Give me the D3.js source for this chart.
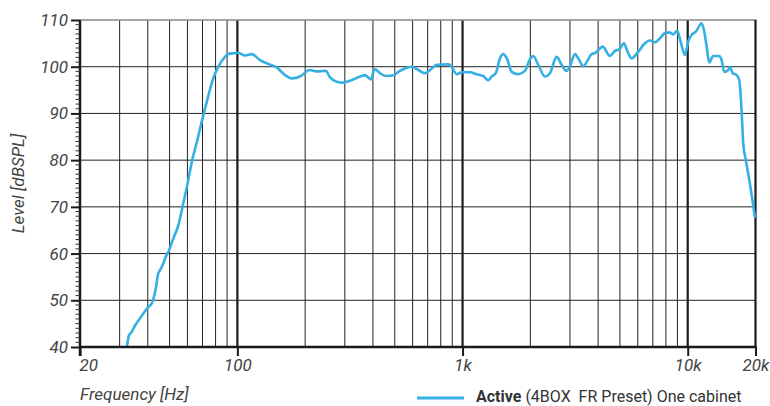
<!DOCTYPE html>
<html><head><meta charset="utf-8">
<script src="https://cdn.jsdelivr.net/npm/d3@7"></script>
<style>html,body{margin:0;padding:0;background:#fff}svg{display:block}</style>
</head><body>
<script>
// ---- data ----
const freqs = [32.4,33.0,33.9,35.1,36.9,39.6,41.9,43.4,44.5,45.3,46.9,47.7,49.7,51.9,54.7,57.5,60.1,63.0,66.4,69.4,73.5,78.1,82.3,88.1,91.1,97.6,101,108,116,126,137,149,163,174,190,196,209,225,247,258,276,295,316,339,369,391,408,430,460,489,527,594,636,681,717,767,864,894,942,991,1078,1155,1236,1301,1346,1407,1466,1517,1579,1652,1767,1893,1991,2061,2169,2323,2444,2617,2755,2899,2999,3156,3265,3436,3616,3744,3874,4076,4190,4515,4751,4966,5209,5385,5636,6028,6456,6795,7147,7527,8003,8339,8623,8980,9297,9720,10047,10400,10870,11527,11800,12136,12460,12975,13800,14140,14520,15135,15390,15820,16485,16940,17345,17640,18120,18880,19870];
const levels = [40.4,42.5,43.2,44.6,46.1,48.2,49.6,52.5,55.7,56.4,57.9,58.9,60.7,63.2,66.1,70.7,75.0,80.0,84.3,88.2,92.9,97.5,100.0,102.1,102.7,102.9,103.0,102.4,102.7,101.4,100.6,99.9,98.2,97.5,97.9,98.4,99.3,99.0,99.1,97.7,96.8,96.6,97.0,97.6,98.2,97.3,99.5,98.6,98.0,98.1,99.1,100.0,99.3,98.6,99.3,100.4,100.5,100.0,98.4,98.8,98.8,98.4,98.0,97.1,97.9,98.7,101.8,102.7,101.6,98.9,98.4,99.1,101.6,102.3,100.4,97.9,98.6,102.1,100.4,99.1,100.1,102.7,101.8,100.1,101.6,102.7,102.9,103.9,104.3,102.3,103.4,103.7,105.0,103.4,101.8,103.2,105.0,105.6,105.2,106.1,107.3,107.3,106.9,107.7,105.4,102.5,105.4,106.8,107.5,109.3,107.9,104.3,100.9,102.3,102.3,101.4,98.9,99.3,100.0,98.7,98.2,97.1,90.7,83.6,80.0,75.0,67.9];
const xTickValues = [20,100,1000,10000,20000];
const xTickLabels = ["20","100","1k","10k","20k"];
const yTickValues = [40,50,60,70,80,90,100,110];
const xGrid = [30,40,50,60,70,80,90,200,300,400,500,600,700,800,900,2000,3000,4000,5000,6000,7000,8000,9000];
const xGridBold = [100,1000,10000];
const yTitle = "Level [dBSPL]";
const xTitle = "Frequency [Hz]";
const legendBold = "Active";
const legendRest = "(4BOX\u00a0\u00a0FR Preset) One cabinet";

// ---- layout ----
const W = 770, H = 406;
const L = 80, R = 755.5, T = 20, B = 347;
const x = d3.scaleLog().domain([20,20000]).range([L,R]);
const y = d3.scaleLinear().domain([40,110]).range([B,T]);
const blue = "#36afe4";
const font = "Roboto, 'Liberation Sans', sans-serif";

const svg = d3.select("body").append("svg").attr("width",W).attr("height",H);

// horizontal grid
svg.append("g").selectAll("line").data(yTickValues.filter(v=>v>40&&v<110)).join("line")
  .attr("x1",L).attr("x2",R).attr("y1",d=>y(d)).attr("y2",d=>y(d))
  .attr("stroke","#222").attr("stroke-width",1);
// vertical minor grid
svg.append("g").selectAll("line").data(xGrid).join("line")
  .attr("x1",d=>x(d)).attr("x2",d=>x(d)).attr("y1",T).attr("y2",B)
  .attr("stroke","#222").attr("stroke-width",1);
// vertical bold grid
svg.append("g").selectAll("line").data(xGridBold).join("line")
  .attr("x1",d=>x(d)).attr("x2",d=>x(d)).attr("y1",T).attr("y2",B)
  .attr("stroke","#1a1a1a").attr("stroke-width",2.2);
// top border
svg.append("line").attr("x1",L).attr("x2",R+1).attr("y1",T).attr("y2",T)
  .attr("stroke","#888").attr("stroke-width",1.5);
// right border
svg.append("line").attr("x1",R).attr("x2",R).attr("y1",T).attr("y2",B)
  .attr("stroke","#1a1a1a").attr("stroke-width",2.2);

// data line
const line = d3.line().x((d,i)=>x(freqs[i])).y(d=>y(d)).curve(d3.curveMonotoneX);
svg.append("path").datum(levels).attr("d",line)
  .attr("fill","none").attr("stroke",blue).attr("stroke-width",2.6)
  .attr("stroke-linejoin","round").attr("stroke-linecap","round");

// left axis
const yAxis = d3.axisLeft(y).tickValues(yTickValues).tickSize(9).tickPadding(3);
const gy = svg.append("g").attr("transform",`translate(${L},0)`).call(yAxis);
gy.select(".domain").attr("stroke","#1a1a1a").attr("stroke-width",2.5).attr("d",`M0,${T}V${B+9}`);
gy.selectAll(".tick line").attr("stroke","#1a1a1a").attr("stroke-width",2);
gy.selectAll(".tick text").attr("font-family",font).attr("font-style","italic")
  .attr("font-size",17).attr("fill","#444");
// minor ticks every 1 dB
const minor = d3.range(41,110).filter(v=>v%10!==0);
svg.append("g").selectAll("line").data(minor).join("line")
  .attr("x1",L-4.5).attr("x2",L).attr("y1",d=>y(d)).attr("y2",d=>y(d))
  .attr("stroke","#333").attr("stroke-width",1);

// bottom axis
const xAxis = d3.axisBottom(x).tickValues(xTickValues).tickFormat((d,i)=>xTickLabels[i]).tickSize(9).tickPadding(3);
const gx = svg.append("g").attr("transform",`translate(0,${B})`).call(xAxis);
gx.select(".domain").attr("stroke","#1a1a1a").attr("stroke-width",2.5).attr("d",`M${L},0H${R+1}`);
gx.selectAll(".tick line").attr("stroke","#1a1a1a").attr("stroke-width",2);
gx.selectAll(".tick text").attr("font-family",font).attr("font-style","italic")
  .attr("font-size",17).attr("fill","#444");
gx.selectAll(".tick text").filter((d)=>d===20).attr("text-anchor","start").attr("dx",-1);

// axis titles
svg.append("text").attr("transform",`translate(24,${(T+B)/2}) rotate(-90)`)
  .attr("text-anchor","middle").attr("font-family",font).attr("font-style","italic")
  .attr("font-size",17).attr("fill","#444").text(yTitle);
svg.append("text").attr("x",L).attr("y",400)
  .attr("font-family",font).attr("font-style","italic")
  .attr("font-size",17).attr("fill","#444").text(xTitle);

// legend
svg.append("line").attr("x1",417).attr("x2",464).attr("y1",398).attr("y2",398)
  .attr("stroke",blue).attr("stroke-width",3);
const lb = svg.append("text").attr("x",476).attr("y",402)
  .attr("font-family",font).attr("font-weight","bold").attr("font-size",16).attr("fill","#333")
  .text(legendBold);
const bw = lb.node().getComputedTextLength();
svg.append("text").attr("x",476+bw+4).attr("y",402)
  .attr("font-family",font).attr("font-size",16).attr("fill","#333")
  .text(legendRest);
</script>
</body></html>
